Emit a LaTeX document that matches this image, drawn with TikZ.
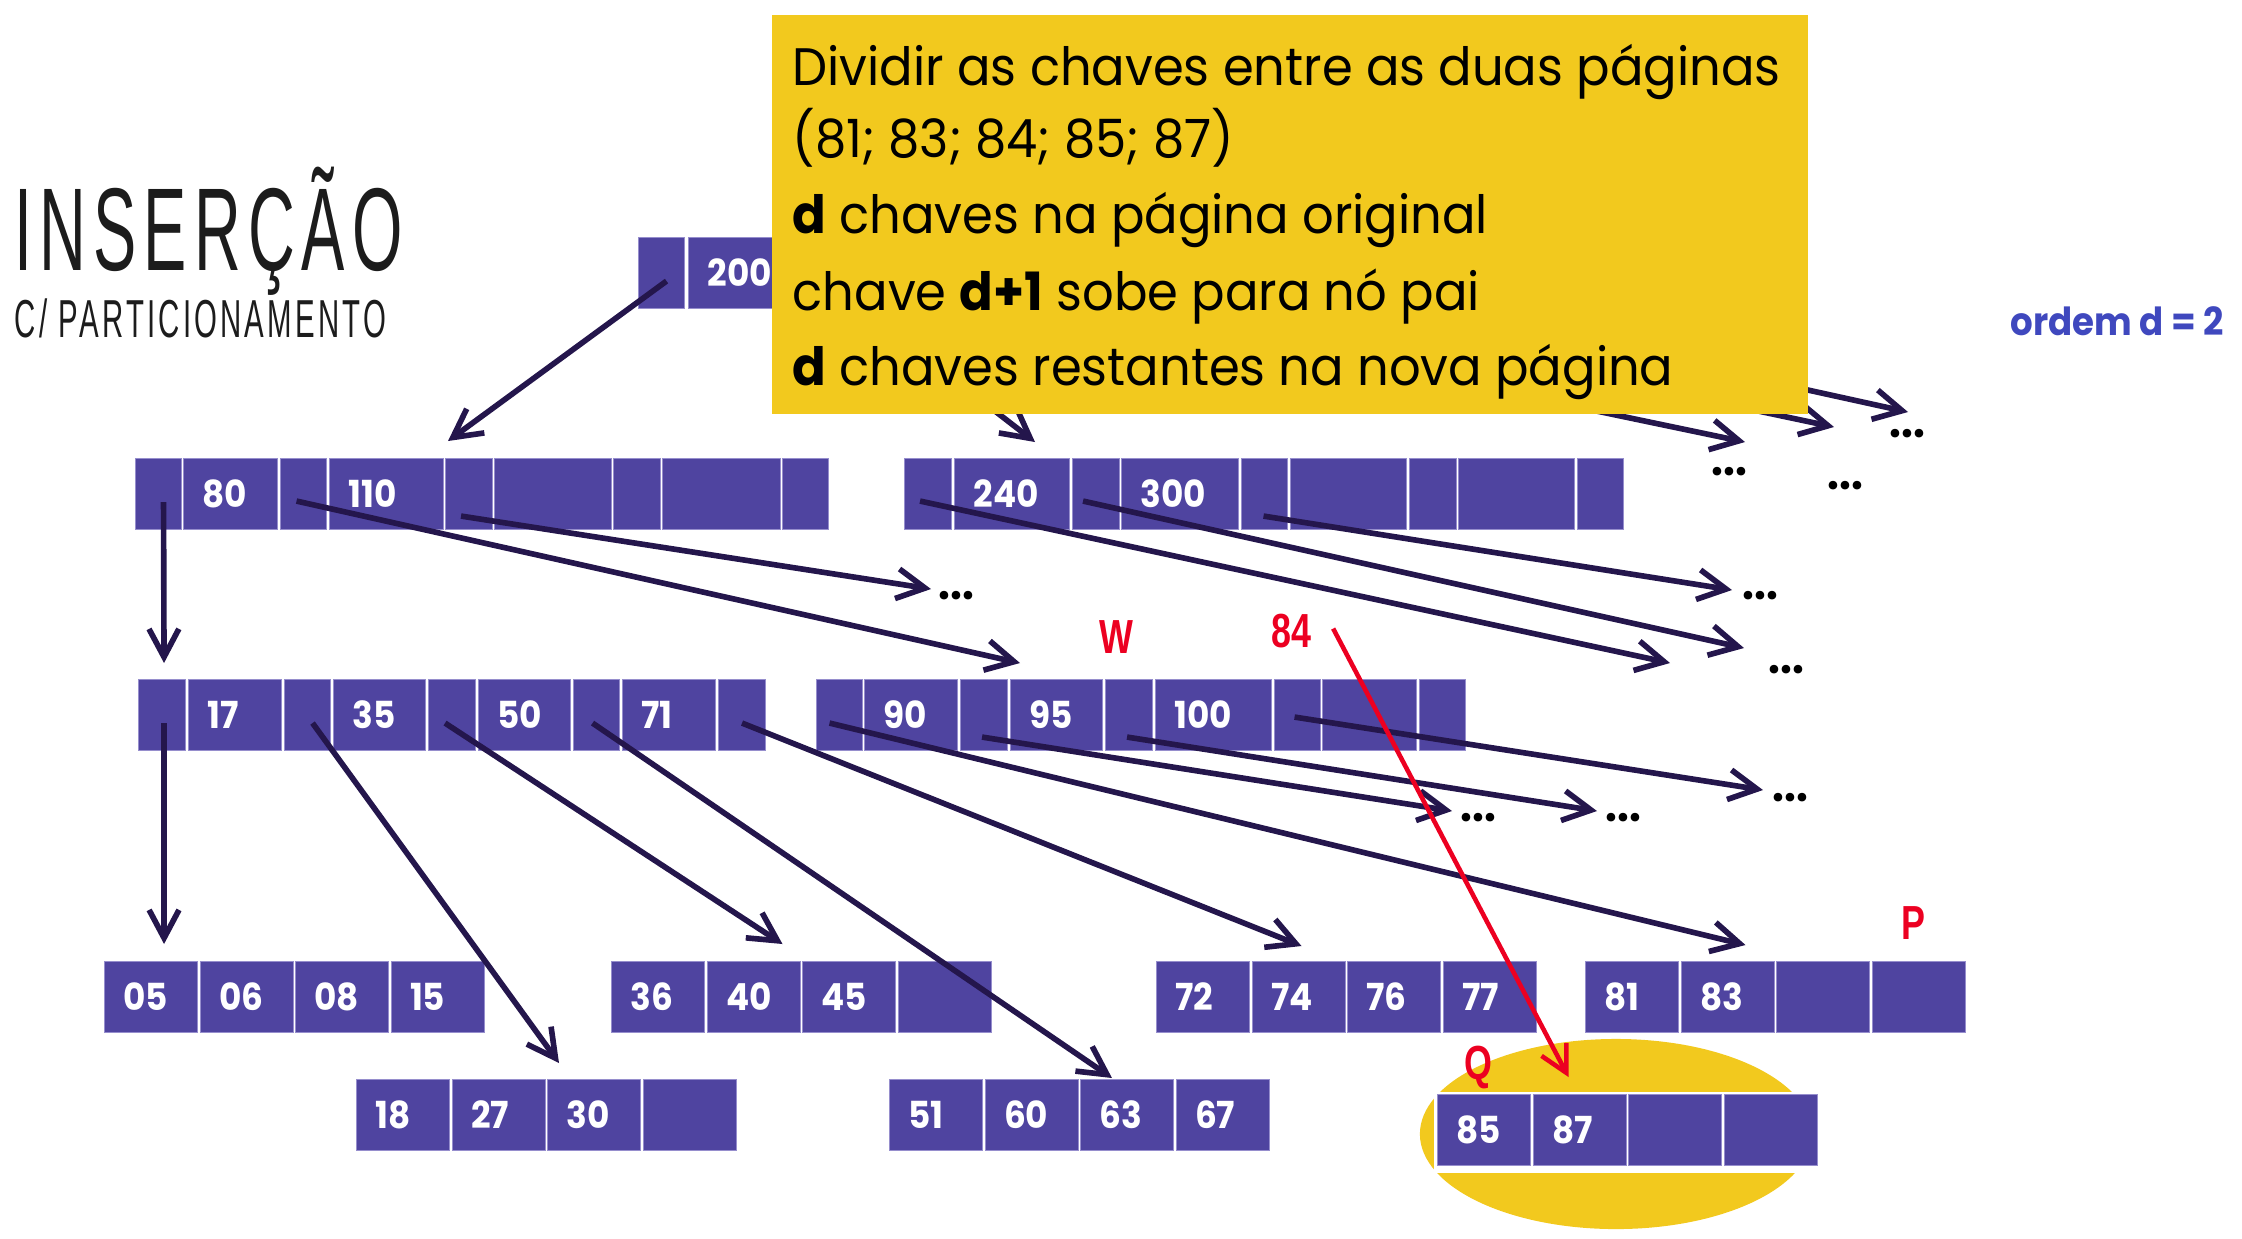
\documentclass[tikz,border=0pt]{standalone}
\usepackage{fontspec}
\setmainfont{Poppins}[FakeStretch=0.94]
\newfontfamily\numfont[FakeStretch=0.92]{Poppins}
\newfontfamily\titlefont[FakeStretch=0.55,LetterSpace=6]{Liberation Sans}
\newfontfamily\markfont[FakeStretch=0.75]{Liberation Sans}
\usetikzlibrary{arrows.meta, calc}
\definecolor{pagefill}{RGB}{79,68,160}
\definecolor{pageline}{RGB}{150,142,205}
\definecolor{pointer}{RGB}{36,22,76}
\definecolor{notegold}{RGB}{242,201,30}
\definecolor{splitred}{RGB}{236,0,33}
\definecolor{orderblue}{RGB}{63,72,190}
\definecolor{titlegray}{RGB}{28,28,28}

\tikzset{
  pagecell/.style={fill=pagefill, draw=pageline, line width=0.3pt, anchor=north west,
    minimum height=0.71cm, inner xsep=0.19cm, inner ysep=0pt, align=left,
    text=white, font=\numfont\bfseries\fontsize{10.6pt}{12pt}\selectfont},
  ptr/.style={draw=pointer, line width=1.6pt, -{Straight Barb[length=8pt,width=8.5pt]}},
  redptr/.style={draw=splitred, line width=1.3pt, -{Straight Barb[length=7.5pt,width=8pt]}},
  more/.style={anchor=west, inner sep=0pt, font=\numfont\bfseries\fontsize{13pt}{15pt}\selectfont},
  redmark/.style={anchor=base, inner sep=0pt, text=splitred, font=\markfont\bfseries\fontsize{13.6pt}{15pt}\selectfont},
  noteline/.style={anchor=base west, inner sep=0pt, font=\fontsize{15pt}{18pt}\selectfont}
}

\begin{document}
\begin{tikzpicture}[x=0.01cm, y=-0.01cm]
    \useasboundingbox (0,0) rectangle (2242,1238);

    % Highlight behind the new page Q
    \fill[notegold] (1616,1134) ellipse [x radius=1.96cm, y radius=0.95cm];
    \fill[white] (1434,1092) rectangle (1840,1173);

    % Root page (mostly hidden by the note)
    \foreach \n/\l/\w/\t [evaluate=\w as \tw using (\w-38)*0.01] in
      {r1/638/46/{}, r2/688/116/200, r3/807/46/{}, r4/856/116/{}, r5/975/46/{},
       r6/1024/116/{}, r7/1143/46/{}, r8/1192/116/{}, r9/1311/46/{}}
      \node[pagecell, text width=\tw cm] (\n) at (\l,237) {\t};

    % Level 1
    \foreach \n/\l/\w/\t [evaluate=\w as \tw using (\w-38)*0.01] in
      {ua1/135/46/{}, ua2/183/94/80, ua3/280/46/{}, ua4/329/114/110, ua5/445/47/{},
       ua6/494/117/{}, ua7/613/47/{}, ua8/662/118/{}, ua9/782/46/{},
       ub1/904/47/{}, ub2/954/115/240, ub3/1072/47/{}, ub4/1121/117/300, ub5/1241/46/{},
       ub6/1290/116/{}, ub7/1409/47/{}, ub8/1458/116/{}, ub9/1577/46/{}}
      \node[pagecell, text width=\tw cm] (\n) at (\l,458) {\t};

    % Level 2
    \foreach \n/\l/\w/\t [evaluate=\w as \tw using (\w-38)*0.01] in
      {ma1/138/47/{}, ma2/188/93/17, ma3/284/46/{}, ma4/333/92/35, ma5/428/47/{},
       ma6/478/92/50, ma7/573/46/{}, ma8/622/93/71, ma9/718/47/{},
       mb1/816/46/{}, mb2/864/93/90, mb3/960/47/{}, mb4/1010/92/95, mb5/1105/47/{},
       mb6/1155/116/100, mb7/1274/46/{}, mb8/1322/94/{}, mb9/1419/46/{}}
      \node[pagecell, text width=\tw cm] (\n) at (\l,679) {\t};

    % Leaves
    \foreach \pg/\x/\y/\keys in
      {fa/104/961/{05,06,08,15}, fc/611/961/{36,40,45,{}}, fe/1156/961/{72,74,76,77},
       p/1585/961/{81,83,{},{}}, fb/356/1079/{18,27,30,{}}, fd/889/1079/{51,60,63,67},
       q/1437/1094/{85,87,{},{}}}
      \foreach \t [count=\i] in \keys
        \node[pagecell, text width=0.55cm] (\pg\i) at ({\x+(\i-1)*95.5},\y) {\t};

    % Continuation marks
    \node[more] (d1) at (938,596) {...};
    \node[more] (d2) at (1742,596) {...};
    \node[more] (d3) at (1768,670) {...};
    \node[more] (d4) at (1460,818) {...};
    \node[more] (d5) at (1605,818) {...};
    \node[more] (d6) at (1772,798) {...};
    \node[more] (d7) at (1711,472) {...};
    \node[more] (d8) at (1827,486) {...};
    \node[more] (d9) at (1889,434) {...};
    \coordinate (ubend) at (1670,663);

    % Pointers from the root
    \draw[ptr] ([shift={(5,8)}]r1.center) -- ([shift={(3,-17)}]ua5.north west);
    \draw[ptr] ([shift={(3,13)}]r3.center) -- ([shift={(81,-16)}]ub2.north west);
    \draw[ptr] ([shift={(0,13)}]r5.center) -- ([shift={(34,-30)}]d7.west);
    \draw[ptr] ([shift={(0,13)}]r7.center) -- ([shift={(7,-59)}]d8.west);
    \draw[ptr] ([shift={(0,13)}]r9.center) -- ([shift={(19,-22)}]d9.west);

    % Pointers from level 1
    \draw[ptr] ([shift={(5,8)}]ua1.center) -- ([shift={(2,-16)}]ma1.north);
    \draw[ptr] ([shift={(-7,7)}]ua3.center) -- ([shift={(10,-16)}]mb4.north west);
    \draw[ptr] ([shift={(-8,22)}]ua5.center) -- ([shift={(-7,-7)}]d1.west);
    \draw[ptr] ([shift={(-8,7)}]ub1.center) -- (ubend);
    \draw[ptr] ([shift={(-13,7)}]ub3.center) -- ([shift={(-24,-22)}]d3.west);
    \draw[ptr] ([shift={(-1,22)}]ub5.center) -- ([shift={(-10,-6)}]d2.west);

    % Pointers from level 2
    \draw[ptr] ([shift={(2,8)}]ma1.center) -- ([shift={(13,-17)}]fa1.north);
    \draw[ptr] ([shift={(5,8)}]ma3.center) -- ([shift={(12,-16)}]fb3.north west);
    \draw[ptr] ([shift={(-7,8)}]ma5.center) -- ([shift={(76,-17)}]fc2.north west);
    \draw[ptr] ([shift={(-4,8)}]ma7.center) -- ([shift={(32,-1)}]fd3.north west);
    \draw[ptr] ([shift={(0,8)}]ma9.center) -- ([shift={(50,-15)}]fe2.north west);
    \draw[ptr] ([shift={(-10,8)}]mb1.center) -- ([shift={(65,-16)}]p2.north west);
    \draw[ptr] ([shift={(-2,22)}]mb3.center) -- ([shift={(-8,-7)}]d4.west);
    \draw[ptr] ([shift={(-2,22)}]mb5.center) -- ([shift={(-8,-7)}]d5.west);
    \draw[ptr] ([shift={(-3,2)}]mb7.center) -- ([shift={(-9,-8)}]d6.west);

    % Note
    \fill[notegold] (772,15) rectangle (1808,414);
    \node[noteline] (t1) at (792,85) {Dividir as chaves entre as duas páginas};
    \node[noteline] (t2) at (792,157) {(81; 83; 84; 85; 87)};
    \node[noteline] (t3) at (792,233) {\textbf{d} chaves na página original};
    \node[noteline] (t4) at (792,310) {chave \textbf{d+1} sobe para nó pai};
    \node[noteline] (t5) at (792,385) {\textbf{d} chaves restantes na nova página};

    % Title
    \node[anchor=base west, inner sep=0pt, text=titlegray,
      font=\titlefont\fontsize{33.5pt}{39pt}\selectfont] (title) at (14,270) {INSERÇÃO};
    \node[anchor=base west, inner sep=0pt, text=titlegray,
      font=\titlefont\fontsize{15.2pt}{18pt}\selectfont] (subtitle) at (14,337) {C/ PARTICIONAMENTO};
    \node[anchor=base east, inner sep=0pt, text=orderblue,
      font=\numfont\bfseries\fontsize{11pt}{13pt}\selectfont] (order) at (2225,335) {ordem d = 2};

    % Split marks
    \node[redmark] (w) at (1116,653) {W};
    \node[redmark] (n84) at (1291.5,647) {84};
    \node[redmark] (pmark) at (1913,939) {P};
    \node[redmark] (qmark) at (1478,1079) {Q};
    \draw[redptr] ([shift={(21,-2)}]n84.east) -- ([shift={(36,-17)}]q2.north west);
\end{tikzpicture}
\end{document}
